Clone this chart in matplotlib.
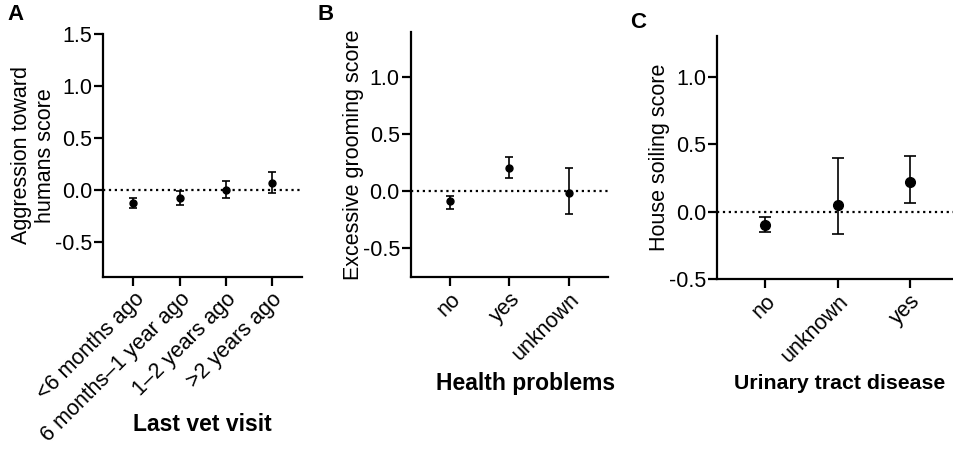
import matplotlib
matplotlib.use('Agg')
import matplotlib.pyplot as plt

plt.rcParams['font.family'] = ['Liberation Sans', 'DejaVu Sans']

# panel A: last vet visit
vet_cats = ['<6 months ago', '6 months\u20131 year ago', '1\u20132 years ago', '>2 years ago']
vet_mean = [-0.13, -0.08, 0.0, 0.065]
vet_low = [-0.18, -0.15, -0.08, -0.03]
vet_high = [-0.077, -0.016, 0.08, 0.17]

# panel B: health problems
health_cats = ['no', 'yes', 'unknown']
health_mean = [-0.09, 0.205, -0.015]
health_low = [-0.155, 0.115, -0.20]
health_high = [-0.04, 0.30, 0.205]

# panel C: urinary tract disease
uti_cats = ['no', 'unknown', 'yes']
uti_mean = [-0.10, 0.052, 0.217]
uti_low = [-0.155, -0.167, 0.066]
uti_high = [-0.042, 0.40, 0.41]


def draw_panel(ax, cats, mean, low, high, ylabel, xlabel, ylim, yticks, msize, cap,
               xlabel_size=16.5):
    x = list(range(len(cats)))
    yerr = [[m - l for m, l in zip(mean, low)], [h - m for m, h in zip(mean, high)]]
    ax.axhline(0, color='black', linestyle=':', linewidth=1.6, zorder=1)
    ax.errorbar(x, mean, yerr=yerr, fmt='o', color='black', markersize=msize,
                capsize=cap, elinewidth=1.2, capthick=1.2, zorder=3)
    ax.set_xlim(-0.66, len(cats) - 1 + 0.66)
    ax.set_ylim(*ylim)
    ax.set_yticks(yticks)
    ax.set_yticklabels([f'{t:.1f}' for t in yticks])
    ax.set_xticks(x)
    ax.set_xticklabels(cats, rotation=45, ha='right', rotation_mode='anchor')
    ax.set_ylabel(ylabel, fontsize=15.5, labelpad=-1)
    ax.set_xlabel(xlabel, fontsize=xlabel_size, fontweight='bold')
    for s in ['top', 'right']:
        ax.spines[s].set_visible(False)
    for s in ['left', 'bottom']:
        ax.spines[s].set_linewidth(1.6)
    ax.tick_params(axis='both', width=1.6, length=6.5, labelsize=15.5)
    ax.tick_params(axis='y', pad=1.5)
    ax.tick_params(axis='x', pad=2)


fig = plt.figure(figsize=(9.54, 4.53), dpi=100)
axA = fig.add_axes([0.108, 0.3885, 0.2086, 0.5365])
axB = fig.add_axes([0.4308, 0.3885, 0.2065, 0.5405])
axC = fig.add_axes([0.7516, 0.384, 0.2474, 0.5365])

draw_panel(axA, vet_cats, vet_mean, vet_low, vet_high,
           'Aggression toward\nhumans score', 'Last vet visit',
           (-0.84, 1.5), [-0.5, 0.0, 0.5, 1.0, 1.5], 5, 3)
draw_panel(axB, health_cats, health_mean, health_low, health_high,
           'Excessive grooming score', 'Health problems',
           (-0.75, 1.39), [-0.5, 0.0, 0.5, 1.0], 5, 3)
draw_panel(axC, uti_cats, uti_mean, uti_low, uti_high,
           'House soiling score', 'Urinary tract disease',
           (-0.5, 1.3), [-0.5, 0.0, 0.5, 1.0], 7, 4, xlabel_size=15.3)
axC.set_xlim(-0.67, 2.6)

axA.xaxis.set_label_coords(0.50, -0.56)
axB.xaxis.set_label_coords(0.58, -0.39)
axC.xaxis.set_label_coords(0.52, -0.39)

fig.text(0.016, 0.967, 'A', fontsize=16, fontweight='bold', va='center', ha='center')
fig.text(0.341, 0.967, 'B', fontsize=16, fontweight='bold', va='center', ha='center')
fig.text(0.669, 0.950, 'C', fontsize=16, fontweight='bold', va='center', ha='center')

fig.savefig('out.png', dpi=100)
